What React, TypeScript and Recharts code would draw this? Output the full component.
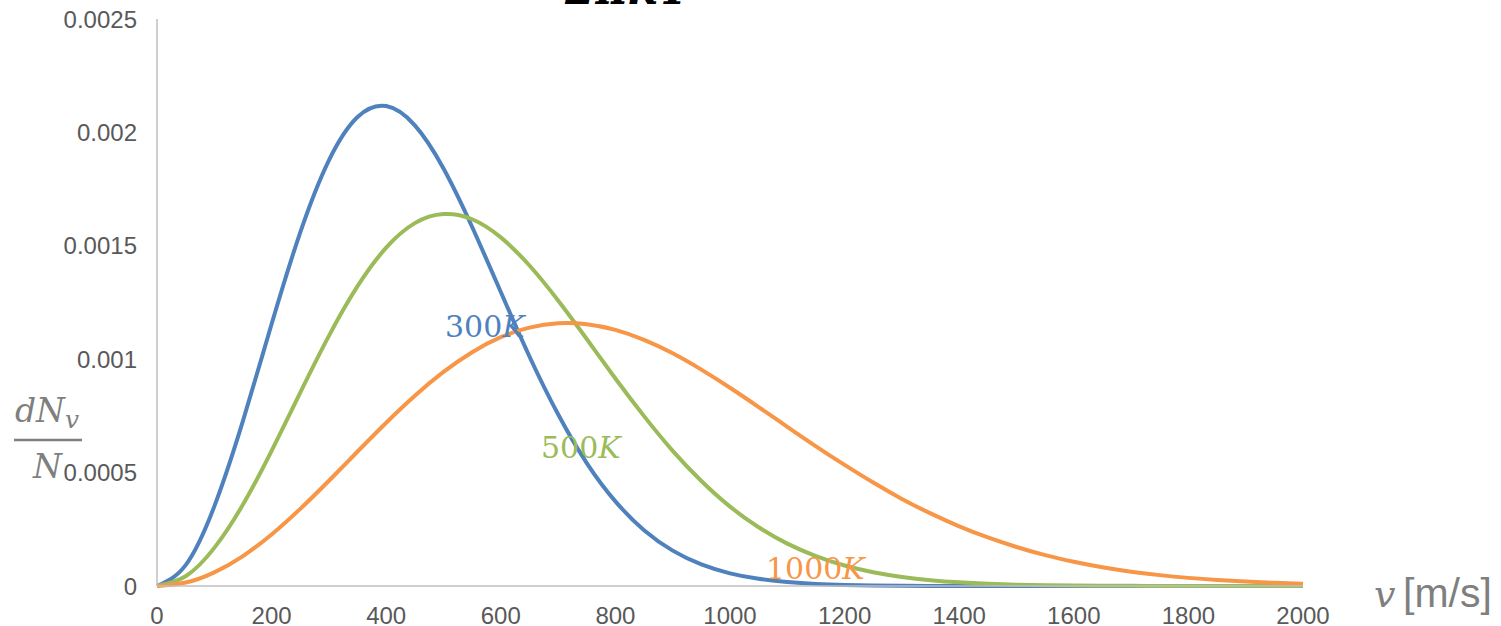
import { LineChart, Line, XAxis, YAxis } from "recharts";

const speeds = [
  0, 50, 100, 150, 200, 250, 300, 350, 400, 450, 500, 550, 600, 650, 700, 750, 800, 850, 900, 950, 1000,
  1050, 1100, 1150, 1200, 1250, 1300, 1350, 1400, 1450, 1500, 1550, 1600, 1650, 1700, 1750, 1800, 1850,
  1900, 1950, 2000,
];

const t300 = [
  0, 0.0000922, 0.000351, 0.000728, 0.001155, 0.001559, 0.001877, 0.002068, 0.002116, 0.002031, 0.001841,
  0.001583, 0.001296, 0.001012, 0.000757, 0.000542, 0.000373, 0.000246, 0.000156, 0.0000951, 0.0000559,
  0.0000316, 0.0000172, 0.0000091, 0.0000046, 0.0000022, 0.0000011, 0.0000005, 0.0000002, 0.0000001, 0,
  0, 0, 0, 0, 0, 0, 0, 0, 0, 0,
];

const t500 = [
  0, 0.0000431, 0.000168, 0.000359, 0.000596, 0.000853, 0.001103, 0.001322, 0.001492, 0.0016, 0.00164,
  0.001617, 0.001537, 0.001413, 0.001259, 0.001089, 0.000915, 0.000749, 0.000596, 0.000463, 0.00035,
  0.000259, 0.000187, 0.000132, 0.0000904, 0.0000608, 0.00004, 0.0000257, 0.0000162, 0.00001, 0.000006,
  0.0000035, 0.000002, 0.0000011, 0.0000006, 0.0000003, 0.0000002, 0.0000001, 0, 0, 0,
];

const t1000 = [
  0, 0.0000153, 0.0000603, 0.000132, 0.000227, 0.00034, 0.000464, 0.000593, 0.00072, 0.000839, 0.000944,
  0.001031, 0.001097, 0.001139, 0.001158, 0.001154, 0.001129, 0.001085, 0.001026, 0.000954, 0.000874,
  0.000789, 0.000702, 0.000616, 0.000534, 0.000456, 0.000384, 0.00032, 0.000263, 0.000214, 0.000172,
  0.000136, 0.000107, 0.0000827, 0.0000633, 0.0000479, 0.0000358, 0.0000265, 0.0000194, 0.000014, 0.00001,
];

const xTicks = [0, 200, 400, 600, 800, 1000, 1200, 1400, 1600, 1800, 2000];
const yTicks = [0, 0.0005, 0.001, 0.0015, 0.002, 0.0025];

const data = speeds.map((v, i) => ({ v, t300: t300[i], t500: t500[i], t1000: t1000[i] }));

const tickStyle = { fill: "#595959", fontSize: 24, fontFamily: "'Liberation Sans', Arial, sans-serif" };
const serif = "'DejaVu Serif', serif";

export default function App() {
  return (
    <div style={{ position: "absolute", left: 0, top: 0, width: 1501, height: 626 }}>
      <LineChart width={1501} height={626} data={data} margin={{ top: 19, right: 198, bottom: 10, left: 77 }}>
        <XAxis
          dataKey="v"
          type="number"
          domain={[0, 2000]}
          ticks={xTicks}
          tickLine={false}
          tickMargin={15}
          height={30}
          axisLine={{ stroke: "#bfbfbf", strokeWidth: 1.5 }}
          tick={tickStyle}
        />
        <YAxis
          type="number"
          domain={[0, 0.0025]}
          ticks={yTicks}
          tickLine={false}
          tickMargin={14}
          width={80}
          axisLine={{ stroke: "#bfbfbf", strokeWidth: 1.5 }}
          tick={tickStyle}
        />
        <Line dataKey="t300" type="natural" stroke="#4f81bd" strokeWidth={4} dot={false} isAnimationActive={false} />
        <Line dataKey="t500" type="natural" stroke="#9bbb59" strokeWidth={4} dot={false} isAnimationActive={false} />
        <Line dataKey="t1000" type="natural" stroke="#f79646" strokeWidth={4} dot={false} isAnimationActive={false} />
      </LineChart>

      <svg width={1501} height={626} style={{ position: "absolute", left: 0, top: 0, pointerEvents: "none" }}>
        {/* bottom edge of the formula cut off above the chart */}
        <text x={565} y={4} fontFamily={serif} fontSize={44} fontStyle="italic" fontWeight="bold" fill="#000">
          2πkT
        </text>

        <text x={445} y={337} fontFamily={serif} fontSize={30} fill="#4f81bd">
          300<tspan fontStyle="italic">K</tspan>
        </text>
        <text x={541} y={458} fontFamily={serif} fontSize={30} fill="#9bbb59">
          500<tspan fontStyle="italic">K</tspan>
        </text>
        <text x={766} y={579} fontFamily={serif} fontSize={30} fill="#f79646">
          1000<tspan fontStyle="italic">K</tspan>
        </text>

        {/* y axis title dN_v / N */}
        <text x={15} y={422} fontFamily={serif} fontSize={33} fontStyle="italic" fill="#7f7f7f">
          dN
          <tspan fontSize={25} dy={6}>v</tspan>
        </text>
        <line x1={14} x2={82} y1={440} y2={440} stroke="#7f7f7f" strokeWidth={2.5} />
        <text x={33} y={478} fontFamily={serif} fontSize={33} fontStyle="italic" fill="#7f7f7f">
          N
        </text>

        {/* x axis title */}
        <text x={1374} y={607} fontFamily={serif} fontSize={38} fontStyle="italic" fill="#7f7f7f">
          v
        </text>
        <text x={1403} y={607} fontFamily="'Liberation Sans', Arial, sans-serif" fontSize={41} fill="#7f7f7f">
          [m/s]
        </text>
      </svg>
    </div>
  );
}
